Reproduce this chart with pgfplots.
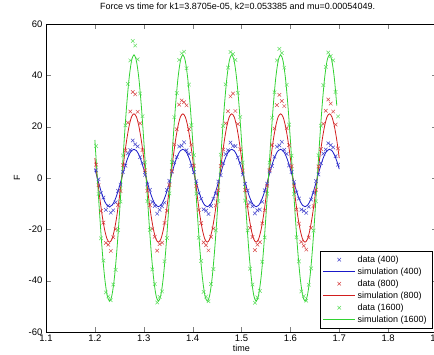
\documentclass[border=0pt]{standalone}
\usepackage{pgfplots}
\usepackage{pgfplotstable}
\pgfplotsset{compat=1.18}
\usepackage{fontspec}
\setmainfont{Liberation Sans}
\definecolor{mb}{RGB}{25,25,200}
\definecolor{mr}{RGB}{210,30,30}
\definecolor{mg}{RGB}{50,210,50}
\definecolor{db}{RGB}{70,70,205}
\definecolor{dr}{RGB}{215,70,70}
\definecolor{dg}{RGB}{95,222,95}
\pgfplotsset{
  legB/.style={legend image code/.code={\draw[color=mb,line width=0.9pt] (0pt,0pt) -- (32pt,0pt);}},
  legR/.style={legend image code/.code={\draw[color=mr,line width=0.9pt] (0pt,0pt) -- (32pt,0pt);}},
  legG/.style={legend image code/.code={\draw[color=mg,line width=0.9pt] (0pt,0pt) -- (32pt,0pt);}},
}
\pgfplotstableread{
t b r g
1.200 3.46 7.73 14.8
1.205 0 0 0
1.210 -3.46 -7.73 -14.8
1.215 -6.59 -14.7 -28.2
1.220 -9.06 -20.2 -38.8
1.225 -10.65 -23.8 -45.6
1.230 -11.2 -25 -48
1.235 -10.65 -23.8 -45.6
1.240 -9.06 -20.2 -38.8
1.245 -6.59 -14.7 -28.2
1.250 -3.46 -7.73 -14.8
1.255 0 0 0
1.260 3.46 7.73 14.8
1.265 6.59 14.7 28.2
1.270 9.06 20.2 38.8
1.275 10.65 23.8 45.6
1.280 11.2 25 48
1.285 10.65 23.8 45.6
1.290 9.06 20.2 38.8
1.295 6.59 14.7 28.2
1.300 3.46 7.73 14.8
1.305 0 0 0
1.310 -3.46 -7.73 -14.8
1.315 -6.59 -14.7 -28.2
1.320 -9.06 -20.2 -38.8
1.325 -10.65 -23.8 -45.6
1.330 -11.2 -25 -48
1.335 -10.65 -23.8 -45.6
1.340 -9.06 -20.2 -38.8
1.345 -6.59 -14.7 -28.2
1.350 -3.46 -7.73 -14.8
1.355 0 0 0
1.360 3.46 7.73 14.8
1.365 6.59 14.7 28.2
1.370 9.06 20.2 38.8
1.375 10.65 23.8 45.6
1.380 11.2 25 48
1.385 10.65 23.8 45.6
1.390 9.06 20.2 38.8
1.395 6.59 14.7 28.2
1.400 3.46 7.73 14.8
1.405 0 0 0
1.410 -3.46 -7.73 -14.8
1.415 -6.59 -14.7 -28.2
1.420 -9.06 -20.2 -38.8
1.425 -10.65 -23.8 -45.6
1.430 -11.2 -25 -48
1.435 -10.65 -23.8 -45.6
1.440 -9.06 -20.2 -38.8
1.445 -6.59 -14.7 -28.2
1.450 -3.46 -7.73 -14.8
1.455 0 0 0
1.460 3.46 7.73 14.8
1.465 6.59 14.7 28.2
1.470 9.06 20.2 38.8
1.475 10.65 23.8 45.6
1.480 11.2 25 48
1.485 10.65 23.8 45.6
1.490 9.06 20.2 38.8
1.495 6.59 14.7 28.2
1.500 3.46 7.73 14.8
1.505 0 0 0
1.510 -3.46 -7.73 -14.8
1.515 -6.59 -14.7 -28.2
1.520 -9.06 -20.2 -38.8
1.525 -10.65 -23.8 -45.6
1.530 -11.2 -25 -48
1.535 -10.65 -23.8 -45.6
1.540 -9.06 -20.2 -38.8
1.545 -6.59 -14.7 -28.2
1.550 -3.46 -7.73 -14.8
1.555 0 0 0
1.560 3.46 7.73 14.8
1.565 6.59 14.7 28.2
1.570 9.06 20.2 38.8
1.575 10.65 23.8 45.6
1.580 11.2 25 48
1.585 10.65 23.8 45.6
1.590 9.06 20.2 38.8
1.595 6.59 14.7 28.2
1.600 3.46 7.73 14.8
1.605 0 0 0
1.610 -3.46 -7.73 -14.8
1.615 -6.59 -14.7 -28.2
1.620 -9.06 -20.2 -38.8
1.625 -10.65 -23.8 -45.6
1.630 -11.2 -25 -48
1.635 -10.65 -23.8 -45.6
1.640 -9.06 -20.2 -38.8
1.645 -6.59 -14.7 -28.2
1.650 -3.46 -7.73 -14.8
1.655 0 0 0
1.660 3.46 7.73 14.8
1.665 6.59 14.7 28.2
1.670 9.06 20.2 38.8
1.675 10.65 23.8 45.6
1.680 11.2 25 48
1.685 10.65 23.8 45.6
1.690 9.06 20.2 38.8
1.695 6.59 14.7 28.2
1.700 3.46 7.73 nan
}\simtable
\pgfplotstableread{
t b r g
1.2025 3.0 5.2 12.4
1.2075 -0.5 -2.8 -6.2
1.2125 -5.9 -12.9 -23.5
1.2175 -7.6 -17.4 -32.2
1.2225 -12.4 -25.3 -44.6
1.2275 -10.8 -26.0 -46.1
1.2325 -13.5 -28.4 -47.6
1.2375 -12.6 -23.1 -41.5
1.2425 -9.5 -19.9 -35.8
1.2475 -5.0 -10.5 -20.3
1.2525 -2.6 -5.1 -9.2
1.2575 2.4 5.0 8.8
1.2625 4.8 10.8 20.5
1.2675 9.6 21.6 36.7
1.2725 10.9 25.9 45.8
1.2775 14.6 33.5 53.4
1.2825 13.1 32.6 51.6
1.2875 12.3 25.8 46.2
1.2925 8.1 21.3 32.9
1.2975 5.9 10.9 24.1
1.3025 1.2 3.0 6.1
1.3075 -2.5 -5.0 -9.0
1.3125 -4.6 -10.6 -20.2
1.3175 -9.3 -19.8 -35.6
1.3225 -10.9 -22.9 -41.3
1.3275 -13.9 -28.3 -48.5
1.3325 -12.4 -25.8 -46.3
1.3375 -11.0 -25.2 -44.2
1.3425 -9.6 -17.5 -32.4
1.3475 -4.7 -12.8 -23.4
1.3525 -1.1 -2.7 -6.0
1.3575 2.5 2.8 6.2
1.3625 6.1 13.1 23.7
1.3675 8.2 19.0 33.1
1.3725 12.3 28.6 46.0
1.3775 12.6 30.2 48.6
1.3825 13.9 29.5 49.2
1.3875 10.8 28.3 42.8
1.3925 9.4 19.1 36.4
1.3975 4.7 13.0 20.6
1.4025 2.3 4.8 8.9
1.4075 -1.2 -3.1 -6.1
1.4125 -6.0 -12.5 -23.3
1.4175 -8.1 -17.6 -32.3
1.4225 -12.2 -25.1 -44.4
1.4275 -12.7 -26.2 -46.2
1.4325 -14.0 -28.2 -48.0
1.4375 -10.9 -22.9 -41.3
1.4425 -8.1 -19.7 -35.5
1.4475 -6.1 -10.7 -20.4
1.4525 -1.4 -4.8 -9.0
1.4575 1.1 4.7 9.1
1.4625 5.9 11.1 20.3
1.4675 9.3 21.3 36.5
1.4725 10.8 26.0 43.0
1.4775 13.8 31.8 49.1
1.4825 12.5 32.9 48.3
1.4875 12.4 26.1 46.0
1.4925 8.0 21.0 33.2
1.4975 6.0 11.2 23.8
1.5025 1.3 2.9 6.0
1.5075 -2.3 -4.7 -8.8
1.5125 -4.9 -10.8 -20.4
1.5175 -9.5 -19.5 -35.3
1.5225 -11.0 -23.0 -41.5
1.5275 -13.8 -28.1 -48.6
1.5325 -12.6 -26.0 -46.5
1.5375 -12.3 -25.0 -44.0
1.5425 -9.3 -17.7 -32.6
1.5475 -4.8 -12.6 -23.2
1.5525 -2.2 -3.0 -6.1
1.5575 2.6 3.1 6.0
1.5625 4.7 12.9 23.5
1.5675 8.3 19.3 33.4
1.5725 12.2 28.4 45.8
1.5775 12.7 32.4 50.3
1.5825 14.1 30.0 48.7
1.5875 11.0 28.0 43.0
1.5925 9.4 19.4 36.3
1.5975 4.9 12.8 20.8
1.6025 2.4 4.6 8.7
1.6075 -1.5 -3.2 -6.3
1.6125 -5.6 -12.3 -23.1
1.6175 -8.0 -17.8 -32.5
1.6225 -12.3 -24.9 -44.2
1.6275 -12.8 -26.4 -46.0
1.6325 -13.6 -27.9 -47.8
1.6375 -11.2 -23.2 -41.6
1.6425 -8.4 -19.5 -35.2
1.6475 -5.9 -10.9 -20.5
1.6525 -1.2 -4.6 -9.1
1.6575 1.4 4.5 8.9
1.6625 5.8 11.3 20.4
1.6675 9.5 21.1 36.2
1.6725 11.1 26.2 43.3
1.6775 13.5 30.6 48.9
1.6825 12.8 29.0 47.5
1.6875 11.9 25.9 45.8
1.6925 8.5 20.8 33.5
1.6975 5.2 11.5 24.0
}\datatable
\begin{document}
\begin{tikzpicture}
\begin{axis}[
  at={(46pt,23pt)}, anchor=south west,
  scale only axis, width=391pt, height=308pt,
  xmin=1.1, xmax=1.9, ymin=-60, ymax=60,
  xtick={1.1,1.2,1.3,1.4,1.5,1.6,1.7,1.8,1.9},
  ytick={-60,-40,-20,0,20,40,60},
  xticklabel style={/pgf/number format/fixed,/pgf/number format/precision=1},
  /pgf/number format/assume math mode=true,
  tick align=inside, major tick length=5pt,
  tick label style={font=\fontsize{9.5}{11}\selectfont},
  xticklabel style={yshift=1pt},
  title={Force vs time for k1=3.8705e-05, k2=0.053385 and mu=0.00054049.},
  title style={at={(axis description cs:0.49,1)}, anchor=center, yshift=11pt, font=\fontsize{9}{10}\selectfont},
  xlabel={time},
  xlabel style={at={(axis description cs:0.5,0)}, anchor=center, yshift=-16pt, font=\fontsize{9}{10}\selectfont},
  ylabel={F},
  ylabel style={at={([xshift=-29pt]axis description cs:0,0.5)}, anchor=center, font=\fontsize{9}{10}\selectfont},
  legend style={at={(0.987,0.013)}, anchor=south east, font=\fontsize{9}{10}\selectfont, draw=black, cells={anchor=west}},
  legend cell align=left,
  legend image code/.code={\draw[mark repeat=2,mark phase=2,#1] plot coordinates {(0pt,0pt) (16pt,0pt) (32pt,0pt)};},
  axis line style={line width=0.6pt},
]
\addplot[forget plot, only marks, mark=x, mark size=2.5pt, color=db, line width=0.5pt]
  table[x=t,y=b] {\datatable};
\addplot[forget plot, color=mb, line width=0.8pt, smooth, tension=0.5]
  table[x=t,y=b] {\simtable};
\addplot[forget plot, only marks, mark=x, mark size=2.5pt, color=dr, line width=0.5pt]
  table[x=t,y=r] {\datatable};
\addplot[forget plot, color=mr, line width=0.8pt, smooth, tension=0.5]
  table[x=t,y=r] {\simtable};
\addplot[forget plot, only marks, mark=x, mark size=2.5pt, color=dg, line width=0.5pt]
  table[x=t,y=g] {\datatable};
\addplot[forget plot, color=mg, line width=0.8pt, smooth, tension=0.5]
  table[x=t,y=g] {\simtable};
\addlegendimage{only marks, mark=x, mark size=2.5pt, color=db, line width=0.5pt}
\addlegendentry{data (400)}
\addlegendimage{legB}
\addlegendentry{simulation (400)}
\addlegendimage{only marks, mark=x, mark size=2.5pt, color=dr, line width=0.5pt}
\addlegendentry{data (800)}
\addlegendimage{legR}
\addlegendentry{simulation (800)}
\addlegendimage{only marks, mark=x, mark size=2.5pt, color=dg, line width=0.5pt}
\addlegendentry{data (1600)}
\addlegendimage{legG}
\addlegendentry{simulation (1600)}
\end{axis}
\pgfresetboundingbox
\useasboundingbox (0,0) rectangle (434pt,355pt);
\end{tikzpicture}
\end{document}
